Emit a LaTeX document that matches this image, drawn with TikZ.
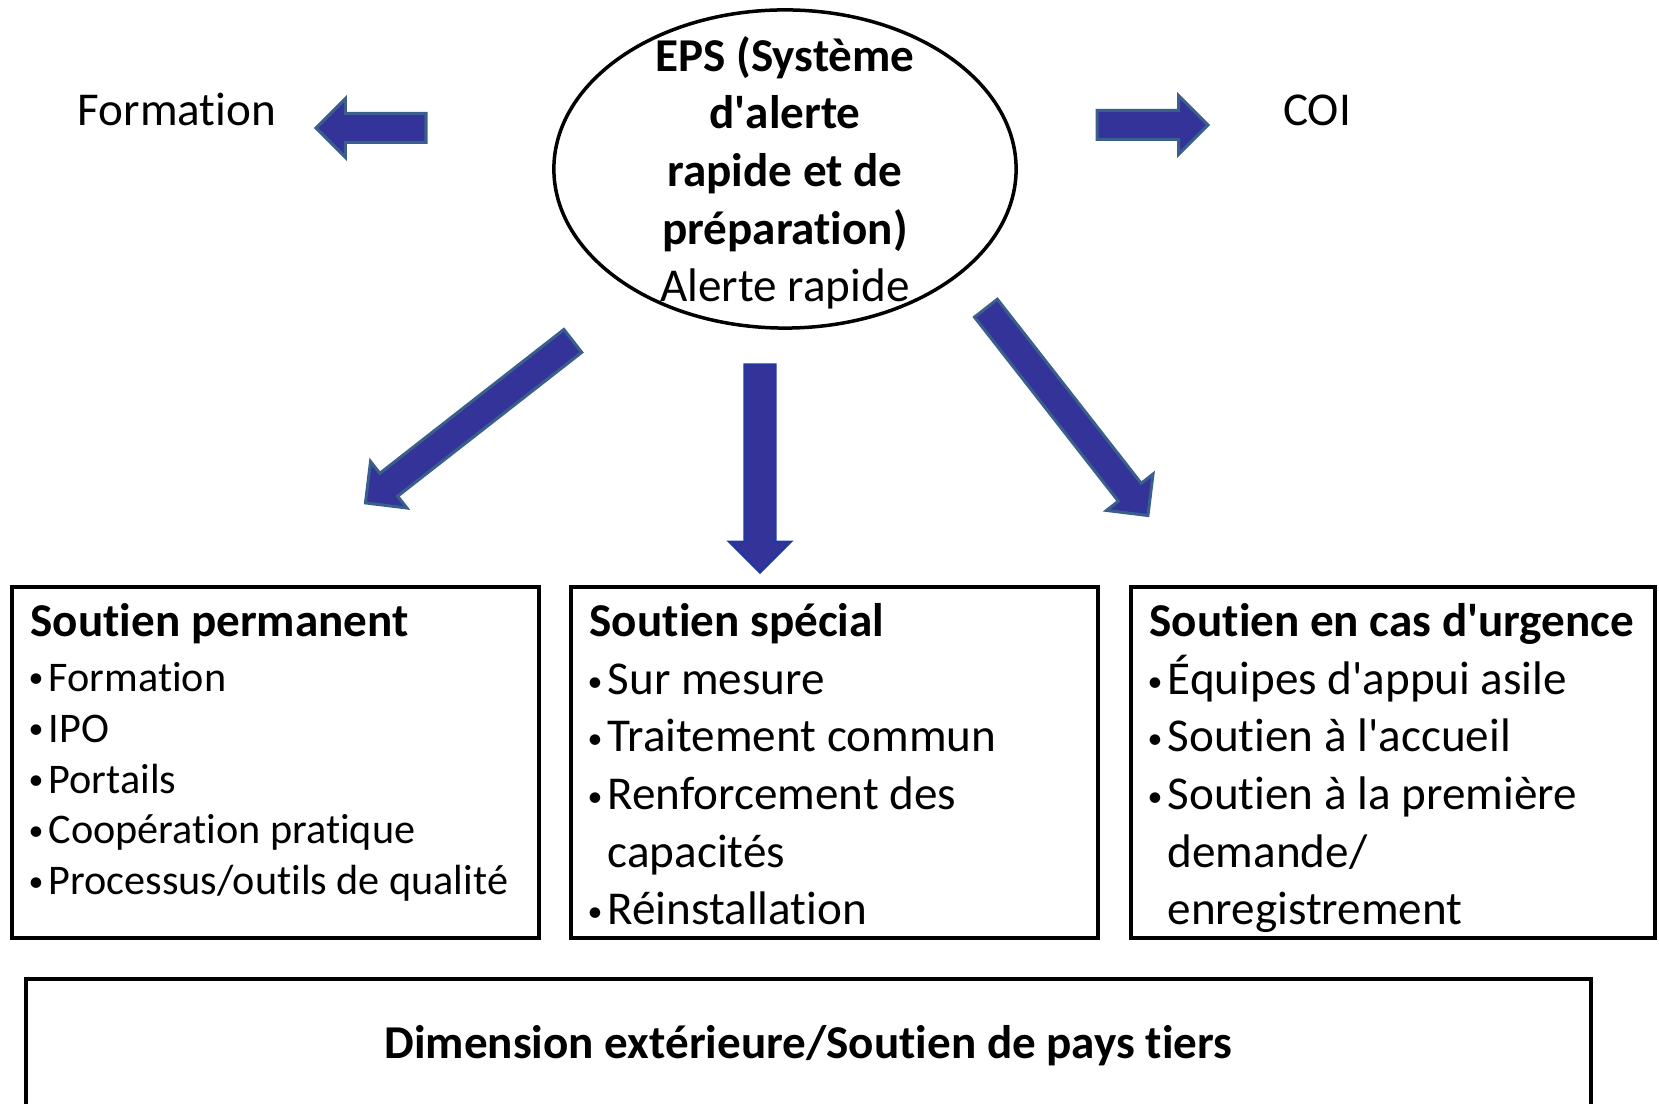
\documentclass[tikz,border=0pt]{standalone}
\usepackage{fontspec}
\setmainfont{Carlito}[Ligatures=NoCommon]
\usetikzlibrary{shapes.geometric,shapes.arrows}

\definecolor{arrowfill}{RGB}{51,51,153}
\definecolor{arrowedge}{RGB}{58,95,140}
\definecolor{downedge}{RGB}{36,56,158}

\newcommand{\bitem}{\makebox[0.18cm][l]{\hspace*{-0.02cm}\raisebox{0.9pt}{\fontsize{8.5}{8.5}\selectfont •}}}
\newcommand{\apos}{\textquotesingle}
\newcommand{\bigfont}{\fontsize{13.4}{16.4}\selectfont}
\newcommand{\smallfont}{\fontsize{12}{14.5}\selectfont}

\begin{document}
\begin{tikzpicture}[x=0.01cm, y=-0.01cm,
    blockarrow/.style={single arrow, draw=arrowedge, fill=arrowfill, line width=0.03cm, anchor=tail,
        inner xsep=0pt, inner ysep=0.13cm, single arrow head extend=0.15cm, single arrow tip angle=90},
    supportbox/.style={rectangle, draw=black, line width=0.04cm, minimum width=#1, minimum height=3.51cm, inner sep=0pt},
    sidetext/.style={anchor=base, inner sep=0pt, font=\bigfont},
    boxtitle/.style={anchor=base west, inner sep=0pt, font=\bigfont\bfseries},
    boxlist/.style={anchor=base west, inner sep=0pt, align=left, font=\bigfont}]
    \useasboundingbox (0,0) rectangle (1659,1104);

    % top: EPS
    \node[ellipse, draw=black, fill=white, line width=0.035cm, minimum width=4.62cm, minimum height=3.18cm, inner sep=0pt] (eps) at (785,169) {};
    \node[align=center, font=\bigfont, anchor=base, inner sep=0pt] (epstext) at (785,302)
        {\textbf{EPS (Système}\\\textbf{d\apos alerte}\\\textbf{rapide et de}\\\textbf{préparation)}\\Alerte rapide};

    \node[sidetext] (formation) at (177,126) {Formation};
    \node[sidetext] (coi) at (1317,126) {COI};

    % block arrows (placed by their tails)
    \node[blockarrow, minimum height=1.10cm, rotate=180] (toformation) at (427.5,128) {};
    \node[blockarrow, minimum height=1.11cm] (tocoi) at (1095.5,125) {};
    \node[blockarrow, minimum height=2.63cm, rotate=218] (toperm) at (574,340) {};
    \node[blockarrow, draw=downedge, inner ysep=0.135cm, minimum height=2.07cm, rotate=-90] (tospecial) at (760,363.5) {};
    \node[blockarrow, minimum height=2.63cm, rotate=-52] (tourgent) at (985,307) {};

    % the three kinds of support
    \node[supportbox=5.27cm] (permbox) at (275.5,762.5) {};
    \node[supportbox=5.27cm] (specialbox) at (834.5,762.5) {};
    \node[supportbox=5.24cm] (urgentbox) at (1393,762.5) {};

    \node[boxtitle] (permtitle) at (30,637) {Soutien permanent};
    \node[boxlist, font=\smallfont] (permlist) at (30,895)
        {\bitem Formation\\\bitem IPO\\\bitem Portails\\\bitem Coopération pratique\\\bitem Processus/outils de qualité};

    \node[boxtitle] (specialtitle) at (589,637) {Soutien spécial};
    \node[boxlist] (speciallist) at (589,925)
        {\bitem Sur mesure\\\bitem Traitement commun\\\bitem Renforcement des\\\hspace*{0.18cm}capacités\\\bitem Réinstallation};

    \node[boxtitle] (urgenttitle) at (1149,637) {Soutien en cas d\apos urgence};
    \node[boxlist] (urgentlist) at (1149,925)
        {\bitem Équipes d\apos appui asile\\\bitem Soutien à l\apos accueil\\\bitem Soutien à la première\\\hspace*{0.18cm}demande/\\\hspace*{0.18cm}enregistrement};

    % bottom
    \node[supportbox=15.65cm, minimum height=1.33cm, font=\bigfont\bfseries] (dimbox) at (808.5,1045.5)
        {Dimension extérieure/Soutien de pays tiers};
\end{tikzpicture}
\end{document}
